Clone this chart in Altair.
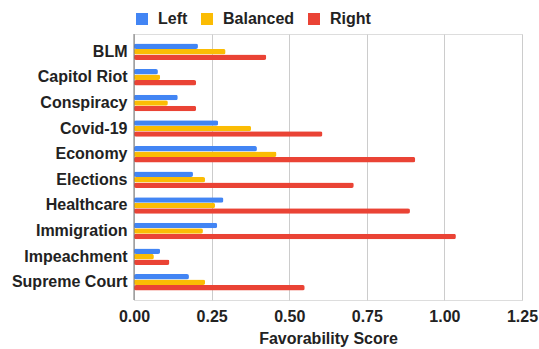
import altair as alt
import pandas as pd

categories = ["BLM", "Capitol Riot", "Conspiracy", "Covid-19", "Economy",
              "Elections", "Healthcare", "Immigration", "Impeachment", "Supreme Court"]
series = ["Left", "Balanced", "Right"]
left = [0.206, 0.077, 0.141, 0.271, 0.396, 0.190, 0.288, 0.268, 0.084, 0.177]
balanced = [0.295, 0.084, 0.109, 0.377, 0.459, 0.229, 0.261, 0.222, 0.064, 0.229]
right = [0.426, 0.200, 0.200, 0.607, 0.906, 0.708, 0.889, 1.037, 0.114, 0.550]
colors = ["#4285F4", "#FBBC04", "#EA4335"]
ticks = [0, 0.25, 0.5, 0.75, 1.0, 1.25]

rows = []
for i, c in enumerate(categories):
    for s, vals in zip(series, [left, balanced, right]):
        rows.append({"Topic": c, "Series": s, "Score": vals[i]})
df = pd.DataFrame(rows)

FONT = "Liberation Sans"
FS = 16

bars = alt.Chart(df).mark_bar(cornerRadius=2).encode(
    y=alt.Y("Topic:N", sort=categories, title=None,
            scale=alt.Scale(paddingInner=0.36, paddingOuter=0.37),
            axis=alt.Axis(ticks=False, domain=False, labelPadding=7,
                          labelFont=FONT, labelFontSize=FS, labelFontWeight="bold",
                          labelColor="#222222")),
    yOffset=alt.YOffset("Series:N", sort=series, scale=alt.Scale(paddingInner=0, paddingOuter=0)),
    x=alt.X("Score:Q", title="Favorability Score",
            scale=alt.Scale(domain=[0, 1.25], nice=False),
            axis=alt.Axis(values=ticks, format=".2f", ticks=False, domain=False,
                          labelFlush=False, gridColor="#cccccc", labelPadding=8,
                          labelFont=FONT, labelFontSize=FS, labelFontWeight="bold",
                          labelColor="#222222", titleFont=FONT, titleFontSize=FS,
                          titleFontWeight="bold", titleColor="#222222", titlePadding=6)),
    color=alt.Color("Series:N", sort=series,
                    scale=alt.Scale(domain=series, range=colors),
                    legend=alt.Legend(title=None, orient="top", direction="horizontal",
                                      symbolType="square", symbolSize=144,
                                      symbolStrokeWidth=0, labelFont=FONT,
                                      labelFontSize=FS, labelFontWeight="bold",
                                      labelColor="#222222", columnPadding=11,
                                      labelOffset=8, offset=7)),
)

base = alt.Chart(pd.DataFrame({"x": [0]})).mark_rule(color="#777777", strokeWidth=1).encode(
    x=alt.X("x:Q")
)

chart = alt.layer(bars, base).properties(
    width=388, height=266,
    autosize=alt.AutoSizeParams(type="none"),
    padding={"left": 134, "top": 34, "right": 17, "bottom": 49},
).configure_view(stroke=None).configure(background="white")

chart.save("out.html", embed_options={"renderer": "svg", "actions": False})
